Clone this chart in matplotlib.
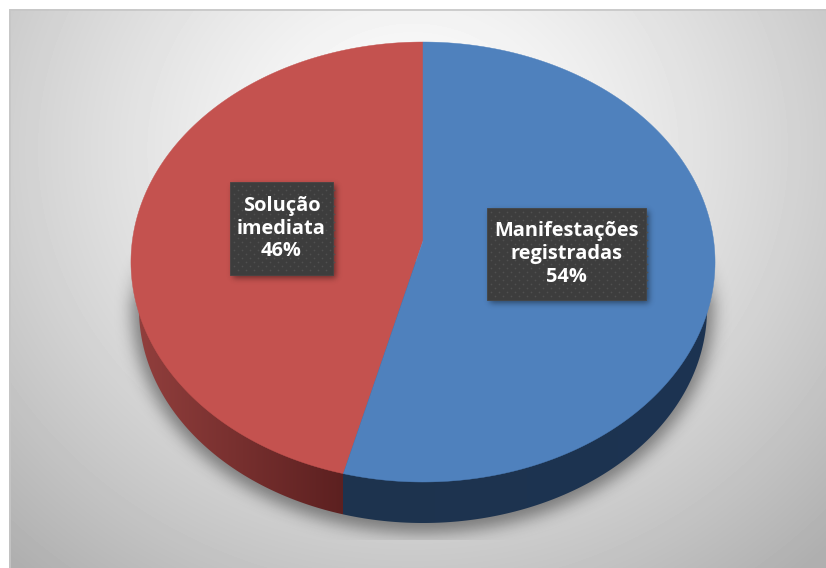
import numpy as np
import matplotlib
matplotlib.use('Agg')
import matplotlib.pyplot as plt
from matplotlib.patches import Polygon, Rectangle

labels = ['Solução\nimediata', 'Manifestações\nregistradas']
shares = [46, 54]
colors_top = ['#c4524f', '#4f81bd']
W, H = 826, 568


def blur(a, s):
    # gaussian blur, rows then columns
    x = np.arange(-int(3 * s), int(3 * s) + 1)
    k = np.exp(-x ** 2 / (2 * s ** 2))
    k /= k.sum()
    a = np.apply_along_axis(lambda r: np.convolve(r, k, mode='same'), 0, a)
    a = np.apply_along_axis(lambda r: np.convolve(r, k, mode='same'), 1, a)
    return a


def disc(theta, rx=290.7, top=42, mid=241, bottom=482, cx=423):
    # unit circle to screen, tilted view so that the centre sits above the middle
    u, v = np.sin(theta), -np.cos(theta)
    c = (2 * mid - top - bottom) / (bottom - top)
    a = (bottom * (1 + c) - top * (1 - c)) / 2
    b = mid
    d = 1 + c * v
    return cx + rx * u / d, (a * v + b) / d


fig = plt.figure(figsize=(W / 100, H / 100), dpi=100)
ax = fig.add_axes([0, 0, 1, 1])
ax.set_xlim(0, W)
ax.set_ylim(H, 0)
ax.axis('off')

yy, xx = np.mgrid[0:H, 0:W] + 0.5

# background
d = np.hypot((xx - 413) / 1.08, (yy - 150) / 1.0)
bg = 1.0 - 0.22 * np.clip(d / 424, 0, 1.3) ** 1.35
ax.imshow(bg, cmap='gray', vmin=0, vmax=1, extent=(0, W, H, 0), aspect='auto', zorder=0)
ax.add_patch(Rectangle((0, 0), W, 9, color='white', lw=0, zorder=1))
ax.add_patch(Rectangle((0, 0), 9, H, color='white', lw=0, zorder=1))
ax.plot([9.5, 9.5, W], [H, 9.5, 9.5], color='#c6c6c6', lw=1.2, zorder=1)

# shadow under the pie
m = (((xx - 423) / 291) ** 2 + ((yy - 309) / 224) ** 2 < 1).astype(float)
m = blur(m, 8)
m *= np.clip((yy - 245) / 60, 0, 1) * (yy < 540)
shadow = np.zeros((H, W, 4))
shadow[..., 3] = m * 0.42
ax.imshow(shadow, extent=(0, W, H, 0), aspect='auto', zorder=2)

# boundary between the slices comes from the shares
t_split = 2 * np.pi * shares[0] / sum(shares)
split_x, _ = disc(2 * np.pi - t_split)
t = np.linspace(0, 2 * np.pi, 721)

# side wall
low_x, low_y = disc(t, rx=283, top=95, mid=291, bottom=523)
top_x, top_y = disc(t, rx=290.7)
i_right = np.argmax(low_x)
i_left = np.argmin(low_x)
px = np.r_[top_x.min(), low_x[i_right:i_left + 1][::-1], top_x.max()]
py = np.r_[262, low_y[i_right:i_left + 1][::-1], 262]
side_shape = Polygon(np.c_[px, py], closed=True, transform=ax.transData, fc='none', lw=0)
ax.add_patch(side_shape)

f = np.clip((xx[0] - 135) / (split_x - 135), 0, 1)[:, None]
red_side = (1 - f) * np.array([0x92, 0x3f, 0x3d]) + f * np.array([0x5c, 0x20, 0x20])
f2 = np.clip((xx[0] - split_x) / (710 - split_x), 0, 1)[:, None]
blue_side = (1 - f2) * np.array([0x1e, 0x33, 0x4e]) + f2 * np.array([0x1c, 0x34, 0x52])
side = np.where(xx[0][:, None] < split_x, red_side, blue_side) / 255
side_img = np.repeat(side[None, :, :], H, axis=0)
im = ax.imshow(side_img, extent=(0, W, H, 0), aspect='auto', zorder=3)
im.set_clip_path(side_shape)

# top face
for i, (share, col) in enumerate(zip(shares, colors_top)):
    start = sum(shares[:i]) / sum(shares) * 2 * np.pi
    span = share / sum(shares) * 2 * np.pi
    th = 2 * np.pi - np.linspace(start, start + span, 300)
    x, y = disc(th)
    mx, my = 423, 241
    ax.add_patch(Polygon(np.c_[np.r_[mx, x], np.r_[my, y]], closed=True, fc=col, ec=col, lw=0.3, zorder=4))

# data labels
boxes = [(230, 182, 103, 93), (487, 208, 159, 92)]
for lab, share, (bx, by, bw, bh) in zip(labels, shares, boxes):
    mask = ((xx > bx + 3) & (xx < bx + bw + 3) & (yy > by + 3) & (yy < by + bh + 3)).astype(float)
    sh = np.zeros((H, W, 4))
    sh[..., 3] = blur(mask, 3) * 0.45
    ax.imshow(sh, extent=(0, W, H, 0), aspect='auto', zorder=5)
    ax.add_patch(Rectangle((bx, by), bw, bh, fc='#3d3d3d', ec='#454545', lw=0.6, zorder=6))
    gx, gy = np.meshgrid(np.arange(bx + 4, bx + bw - 1, 8), np.arange(by + 4, by + bh - 1, 8))
    ax.scatter(np.r_[gx.ravel(), gx.ravel()[:-1] + 4], np.r_[gy.ravel(), gy.ravel()[:-1] + 4],
               s=1.5, color='#505050', lw=0, zorder=7)
    ax.text(bx + bw / 2, by + bh / 2, f'{lab}\n{share}%', ha='center', va='center',
            color='white', fontsize=14.4, fontweight='bold', family='Open Sans',
            linespacing=1.2, zorder=8)

ax.set_xlim(0, W)
ax.set_ylim(H, 0)
fig.savefig('out.png', dpi=100)
